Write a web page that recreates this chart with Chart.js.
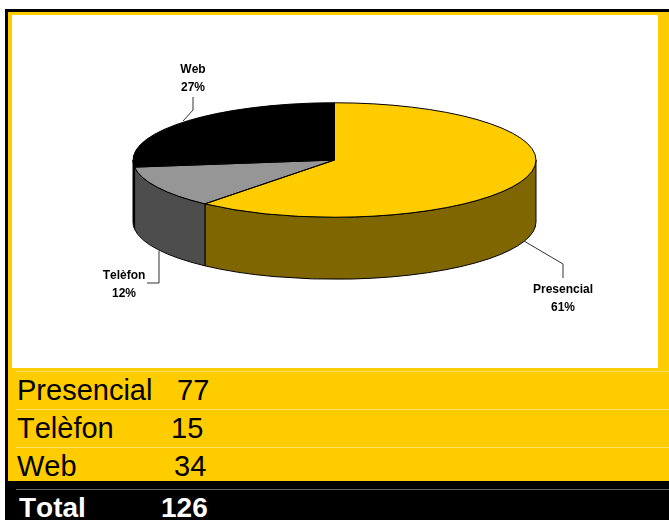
<!DOCTYPE html>
<html>
<head>
<meta charset="utf-8">
<title>Presencial, Telèfon, Web</title>
<script src="https://cdn.jsdelivr.net/npm/chart.js@4"></script>
<style>
    html, body { margin: 0; padding: 0; background: #fff; overflow: hidden; }
    #page { position: relative; width: 669px; height: 520px; font-family: "Liberation Sans", Arial, sans-serif; font-kerning: none; }
    #page div { position: absolute; }
    #blackFrame { left: 5px; top: 9px; width: 664px; height: 511px; background: #000; }
    #yellowFrame { left: 8px; top: 12px; width: 661px; height: 469px; background: #FFCC00; }
    #plotBox { left: 12px; top: 15px; width: 646px; height: 353px; background: #fff; }
    #plotBox canvas { display: block; }
    .rule { left: 16px; width: 653px; height: 1px; background: #FFE066; }
    .rule.dark { background: #666; }
    .cell { font-size: 29px; line-height: 34px; color: #000; white-space: nowrap; }
    .cell.total { font-size: 28px; font-weight: bold; color: #fff; }
</style>
</head>
<body>
<div id="page">
    <div id="blackFrame"></div>
    <div id="yellowFrame"></div>
    <div id="plotBox"><canvas id="pie" width="646" height="353"></canvas></div>
</div>
<script>
const categories = ['Presencial', 'Telèfon', 'Web'];
const counts = [77, 15, 34];
const totalLabel = 'Total';

const topColors = ['#FFCC00', '#969696', '#000000'];
const wallColors = ['#806600', '#4D4D4D', '#000000'];

// squashed pie: ry = radius * tilt, wall hangs below the top face
const tilt = 0.284;
const depth = 62;

// label text centre and leader line, in canvas pixels
const labelSpots = [
    { x: 551, y: 284, leader: [[551, 263], [551, 249], [512, 226]] },
    { x: 112, y: 270, leader: [[135, 268], [147, 268], [147, 236]] },
    { x: 181, y: 64, leader: [[181, 82], [181, 95], [171, 106]] }
];

const total = counts.reduce((a, b) => a + b, 0);

function wallPiece(ctx, arc, index) {
    const ry = arc.outerRadius * tilt;
    // angles are -PI/2 .. 3PI/2, only the part facing us (0 .. PI) has a wall
    const from = Math.max(arc.startAngle, 0);
    const to = Math.min(arc.endAngle, Math.PI);
    if (to <= from) return;
    ctx.beginPath();
    ctx.ellipse(arc.x, arc.y, arc.outerRadius, ry, 0, from, to);
    ctx.ellipse(arc.x, arc.y + depth, arc.outerRadius, ry, 0, to, from, true);
    ctx.closePath();
    ctx.fillStyle = wallColors[index];
    ctx.fill();
    ctx.strokeStyle = '#000';
    ctx.lineWidth = 1;
    ctx.stroke();
}

const pie3d = {
    id: 'pie3d',
    beforeDatasetDraw(chart, args) {
        const ctx = chart.ctx;
        const arcs = args.meta.data;
        arcs.forEach((arc, i) => wallPiece(ctx, arc, i));
        ctx.save();
        ctx.translate(arcs[0].x, arcs[0].y);
        ctx.scale(1, tilt);
        ctx.translate(-arcs[0].x, -arcs[0].y);
    },
    afterDatasetDraw(chart, args) {
        const ctx = chart.ctx;
        ctx.restore();

        // outlines here so the squash does not thin them
        ctx.strokeStyle = '#000';
        ctx.lineWidth = 1;
        args.meta.data.forEach(arc => {
            ctx.beginPath();
            ctx.moveTo(arc.x, arc.y);
            ctx.ellipse(arc.x, arc.y, arc.outerRadius, arc.outerRadius * tilt, 0, arc.startAngle, arc.endAngle);
            ctx.closePath();
            ctx.stroke();
        });

        ctx.font = 'bold 12px "Liberation Sans", Arial, sans-serif';
        ctx.fontKerning = 'none';
        ctx.textAlign = 'center';
        ctx.textBaseline = 'middle';
        labelSpots.forEach((spot, i) => {
            ctx.strokeStyle = '#333';
            ctx.beginPath();
            spot.leader.forEach((p, k) => k ? ctx.lineTo(p[0], p[1]) : ctx.moveTo(p[0], p[1]));
            ctx.stroke();
            ctx.fillStyle = '#000';
            ctx.fillText(categories[i], spot.x, spot.y - 9);
            ctx.fillText(Math.round(counts[i] / total * 100) + '%', spot.x, spot.y + 9);
        });
    }
};

new Chart(document.getElementById('pie').getContext('2d'), {
    type: 'pie',
    plugins: [pie3d],
    data: {
        labels: categories,
        datasets: [{
            data: counts,
            backgroundColor: topColors,
            borderWidth: 0,
            clip: false
        }]
    },
    options: {
        responsive: false,
        animation: false,
        radius: 201.5,
        layout: { padding: { bottom: 63, right: 1 } },
        plugins: {
            legend: { display: false },
            tooltip: { enabled: false }
        }
    }
});

// the table under the chart
const page = document.getElementById('page');
const valueLefts = [177, 171, 174];
const rowTops = [373, 411, 449];

function addCell(text, left, top, className) {
    const el = document.createElement('div');
    el.className = className;
    el.textContent = text;
    el.style.left = left + 'px';
    el.style.top = top + 'px';
    page.appendChild(el);
}

function addRule(top, className) {
    const el = document.createElement('div');
    el.className = className;
    el.style.top = top + 'px';
    page.appendChild(el);
}

[371, 409, 447].forEach(top => addRule(top, 'rule'));
addRule(489, 'rule dark');

categories.forEach((name, i) => {
    addCell(name, 17, rowTops[i], 'cell');
    addCell(String(counts[i]), valueLefts[i], rowTops[i], 'cell');
});
addCell(totalLabel, 19, 491, 'cell total');
addCell(String(total), 161, 491, 'cell total');
</script>
</body>
</html>
